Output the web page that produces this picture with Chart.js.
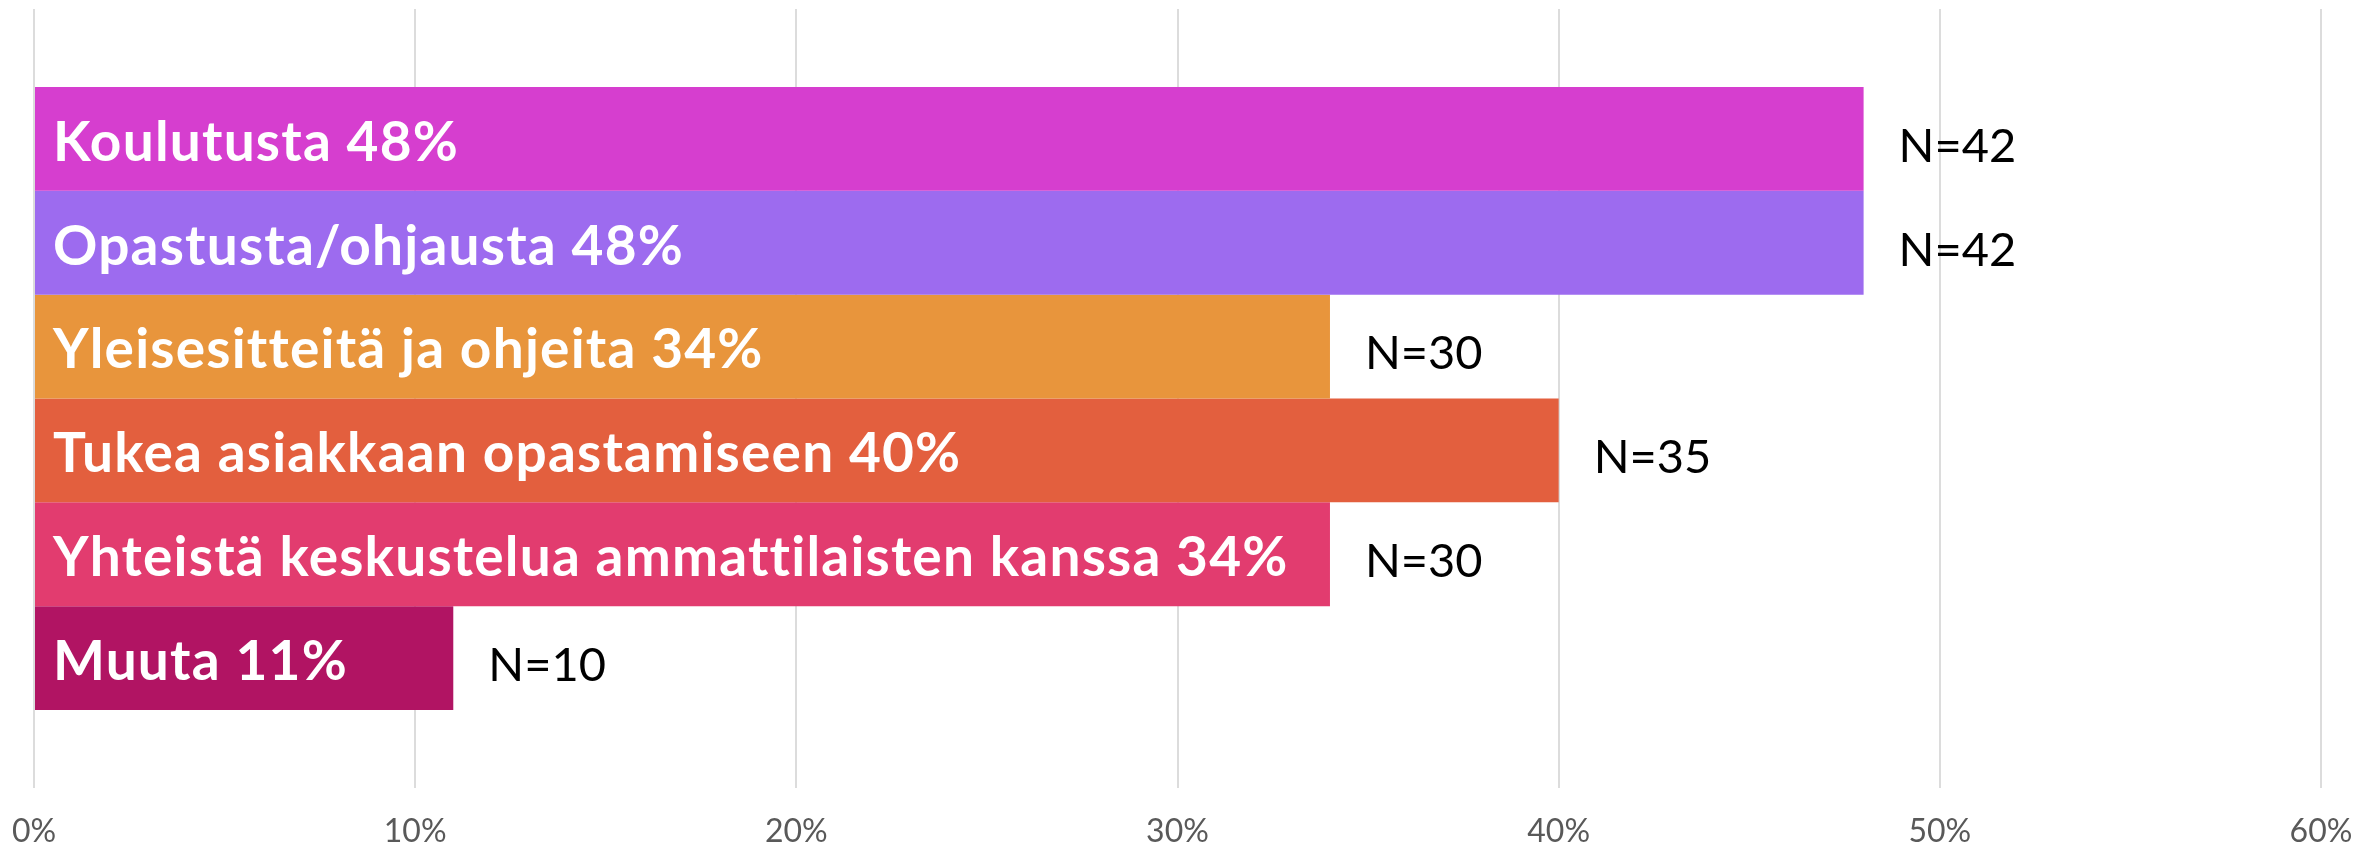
<!DOCTYPE html>
<html>
<head>
<meta charset="utf-8">
<script src="https://cdn.jsdelivr.net/npm/chart.js@4.4.1/dist/chart.umd.min.js"></script>
<style>
  html, body { margin: 0; padding: 0; background: #fff; }
  #wrap { width: 2379px; height: 845px; }
</style>
</head>
<body>
<div id="wrap"><canvas id="myChart"></canvas></div>
<script>
// vastaukset (%) ja vastaajamäärät
const categories = ['Koulutusta', 'Opastusta/ohjausta', 'Yleisesitteitä ja ohjeita', 'Tukea asiakkaan opastamiseen', 'Yhteistä keskustelua ammattilaisten kanssa', 'Muuta'];
const values = [48, 48, 34, 40, 34, 11];
const counts = [42, 42, 30, 35, 30, 10];
const xTicks = [0, 10, 20, 30, 40, 50, 60];

const colors = ['#d63ecf', '#9d6bef', '#e8953c', '#e35f3e', '#e23c6f', '#b11463'];

// tekstit palkkien sisään ja N-määrät palkkien perään
const barLabels = {
  id: 'barLabels',
  afterDatasetsDraw(chart) {
    const c = chart.ctx;
    c.save();
    chart.data.datasets.forEach(function(ds, i) {
      const bar = chart.getDatasetMeta(i).data[0];
      c.textAlign = 'left';
      c.textBaseline = 'alphabetic';
      c.fillStyle = '#ffffff';
      c.font = 'bold 55px Lato';
      c.letterSpacing = '1.2px';
      c.fillText(categories[i] + ' ' + values[i] + '%', bar.base + 18, bar.y + 2 + 0.36 * 55);
      c.fillStyle = '#000000';
      c.font = '47px Lato';
      c.letterSpacing = '0px';
      c.fillText('N=' + counts[i], bar.x + 35, bar.y + 6 + 0.36 * 47);
    });
    c.restore();
  }
};

const ctx = document.getElementById('myChart');

new Chart(ctx, {
  type: 'bar',
  data: {
    labels: [''],
    datasets: categories.map(function(name, i) {
      return {
        label: name,
        data: [values[i]],
        backgroundColor: colors[i],
        borderWidth: 0
      };
    })
  },
  options: {
    indexAxis: 'y',
    responsive: true,
    maintainAspectRatio: false,
    animation: false,
    categoryPercentage: 0.8,
    barPercentage: 1,
    layout: { padding: { left: 34, right: 58, top: 9, bottom: 0 } },
    plugins: {
      legend: { display: false },
      tooltip: { enabled: false }
    },
    scales: {
      x: {
        min: 0,
        max: 60,
        afterBuildTicks: function(scale) {
          scale.ticks = xTicks.map(function(v) { return { value: v }; });
        },
        afterFit: function(scale) {
          scale.height = 57;
          scale.paddingLeft = 0;
          scale.paddingRight = 0;
        },
        grid: { color: '#dcdcdc', lineWidth: 2, drawTicks: false },
        border: { display: false },
        ticks: {
          padding: 24,
          color: '#595959',
          font: { family: 'Lato', size: 32 },
          maxRotation: 0,
          callback: function(v) { return v + '%'; }
        }
      },
      y: { display: false }
    }
  },
  plugins: [barLabels]
});
</script>
</body>
</html>
